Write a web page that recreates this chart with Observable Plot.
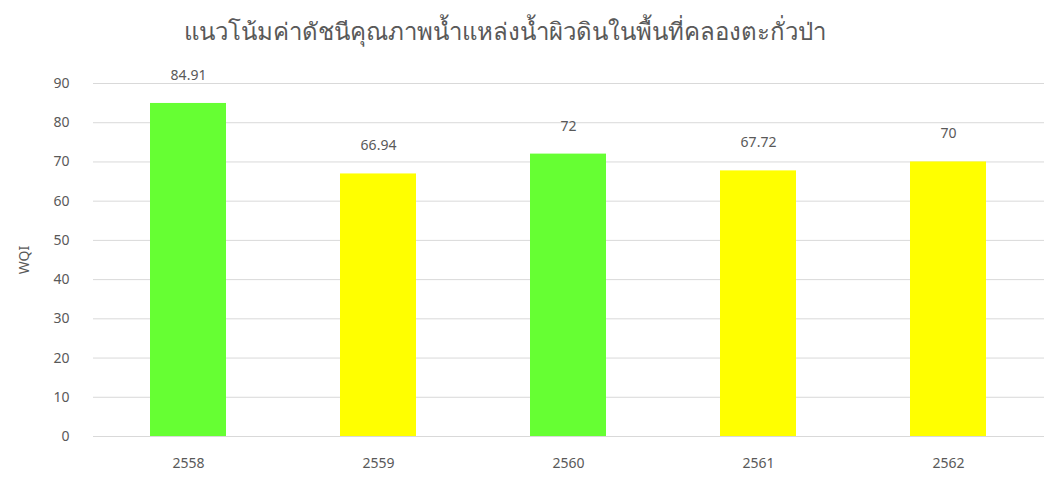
<!DOCTYPE html>
<html><head><meta charset="utf-8">
<script src="https://cdn.jsdelivr.net/npm/d3@7"></script>
<script src="https://cdn.jsdelivr.net/npm/@observablehq/plot@0.6"></script>
<style>
body{margin:0;background:#fff;font-family:"Noto Sans",sans-serif;}
#title{width:1010px;height:55px;line-height:62px;text-align:center;font-size:24px;color:#595959;}
</style></head>
<body>
<div id="title">แนวโน้มค่าดัชนีคุณภาพน้ำแหล่งน้ำผิวดินในพื้นที่คลองตะกั่วป่า</div>
<div id="chart"></div>
<script>
const years = ["2558","2559","2560","2561","2562"];
const wqi = [84.91, 66.94, 72, 67.72, 70];
const labels = ["84.91","66.94","72","67.72","70"];
const quality = ["ดี","พอใช้","ดี","พอใช้","พอใช้"];
const yTicks = [0,10,20,30,40,50,60,70,80,90];

const data = years.map((y,i)=>({year:y, value:wqi[i], label:labels[i], q:quality[i]}));

const chart = Plot.plot({
  width:1044, height:425,
  marginTop:28, marginBottom:44, marginLeft:93, marginRight:0,
  style:{fontFamily:"Noto Sans, sans-serif", fontSize:"14px", color:"#595959"},
  x:{domain:years, paddingInner:0.6, paddingOuter:0.3, label:null, tickSize:0, tickPadding:22},
  y:{domain:[0,90], ticks:yTicks, label:"WQI", labelAnchor:"center", labelArrow:"none", tickSize:0, tickPadding:24, labelOffset:74},
  color:{domain:["ดี","พอใช้"], range:["#66ff33","#ffff00"]},
  marks:[
    Plot.gridY(yTicks,{stroke:"#d9d9d9", strokeOpacity:1}),
    Plot.barY(data,{x:"year", y:"value", fill:"q"}),
    Plot.text(data,{x:"year", y:"value", text:"label", dy:-28, fill:"#595959", fontSize:14})
  ]
});
document.getElementById("chart").appendChild(chart);
</script>
</body></html>
